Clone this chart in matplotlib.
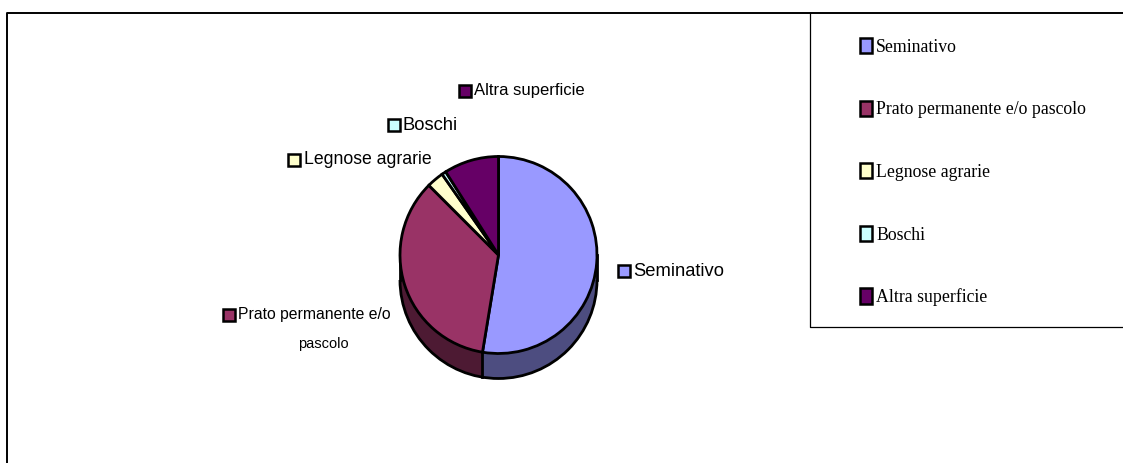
import numpy as np
import matplotlib
matplotlib.use('Agg')
import matplotlib.pyplot as plt
from matplotlib.patches import Patch, Arc

categories = ['Seminativo', 'Prato permanente e/o pascolo', 'Legnose agrarie', 'Boschi', 'Altra superficie']
values = [52.6, 34.9, 2.8, 0.7, 9.0]
pie_labels = ['Seminativo', 'Prato permanente e/o', 'Legnose agrarie', 'Boschi', 'Altra superficie']
colors = ['#9999FF', '#993366', '#FFFFCC', '#CCFFFF', '#660066']
dark_colors = ['#4D4D80', '#4D1A33', '#808066', '#668080', '#330033']

W, H = 1123, 463
fig = plt.figure(figsize=(W / 100, H / 100), dpi=100)
ax = fig.add_axes([0, 0, 1, 1])

# pie sits at these pixel positions, y flipped because the axes go upward
cx, cy = 498.5, H - 255
r = 98.5
depth = 25

# side of the pie: darker copies stacked downward
for d in range(depth, -1, -1):
    ax.pie(values, colors=dark_colors, center=(cx, cy - d), radius=r, startangle=90, counterclock=False,
           wedgeprops={'linewidth': 0}, frame=True)
ax.add_patch(Arc((cx, cy - depth), 2 * r, 2 * r, theta1=180, theta2=360, color='black', lw=2, zorder=3))
ax.plot([cx - r, cx - r], [cy, cy - depth], color='black', lw=2, zorder=3)
ax.plot([cx + r, cx + r], [cy, cy - depth], color='black', lw=2, zorder=3)

# divider on the side between the first two slices
a = np.deg2rad(90 - values[0] / sum(values) * 360)
ex, ey = cx + r * np.cos(a), cy + r * np.sin(a)
ax.plot([ex, ex], [ey, ey - depth], color='black', lw=2, zorder=3)

wedges, _ = ax.pie(values, colors=colors, center=(cx, cy), radius=r, startangle=90, counterclock=False,
                   wedgeprops={'edgecolor': 'black', 'linewidth': 2}, frame=True)
for w in wedges:
    w.set_zorder(4)

ax.set_xlim(0, W)
ax.set_ylim(0, H)
ax.set_xticks([])
ax.set_yticks([])
for s in ax.spines.values():
    s.set_visible(False)

# outer frame and legend box (right and bottom run off the picture)
ax.plot([7, 7, W], [0, H - 13, H - 13], color='black', lw=1.4)
ax.plot([810, 810, W], [H - 13, H - 327, H - 327], color='black', lw=0.9)

# data labels with their little keys
label_x = [633, 238, 304, 402, 474]
label_y = [271, 315, 160, 125, 91]
key_x = [624, 229, 294, 394, 465]
label_sizes = [13.2, 11.3, 12.7, 13.2, 12]
for i, name in enumerate(pie_labels):
    ax.text(label_x[i], H - label_y[i], name, fontsize=label_sizes[i], family='Liberation Sans', va='center', ha='left', color='black')
    ax.plot(key_x[i], H - label_y[i], marker='s', ms=8.5, mfc=colors[i], mec='black', mew=1.8, ls='none')
ax.text(323, H - 344, 'pascolo', fontsize=10.5, family='Liberation Sans', va='center', ha='center', color='black')

# legend
handles = [Patch(facecolor=c, edgecolor='black', linewidth=1.8) for c in colors]
leg = ax.legend(handles, categories, loc='upper left', bbox_to_anchor=(860 / W, 1 - 38 / H), frameon=False,
                prop={'family': 'Liberation Serif', 'size': 12.8}, handlelength=0.65, handleheight=0.95,
                handletextpad=0.25, labelspacing=2.52, borderpad=0, borderaxespad=0)

fig.savefig('out.png', dpi=100, facecolor='white')
